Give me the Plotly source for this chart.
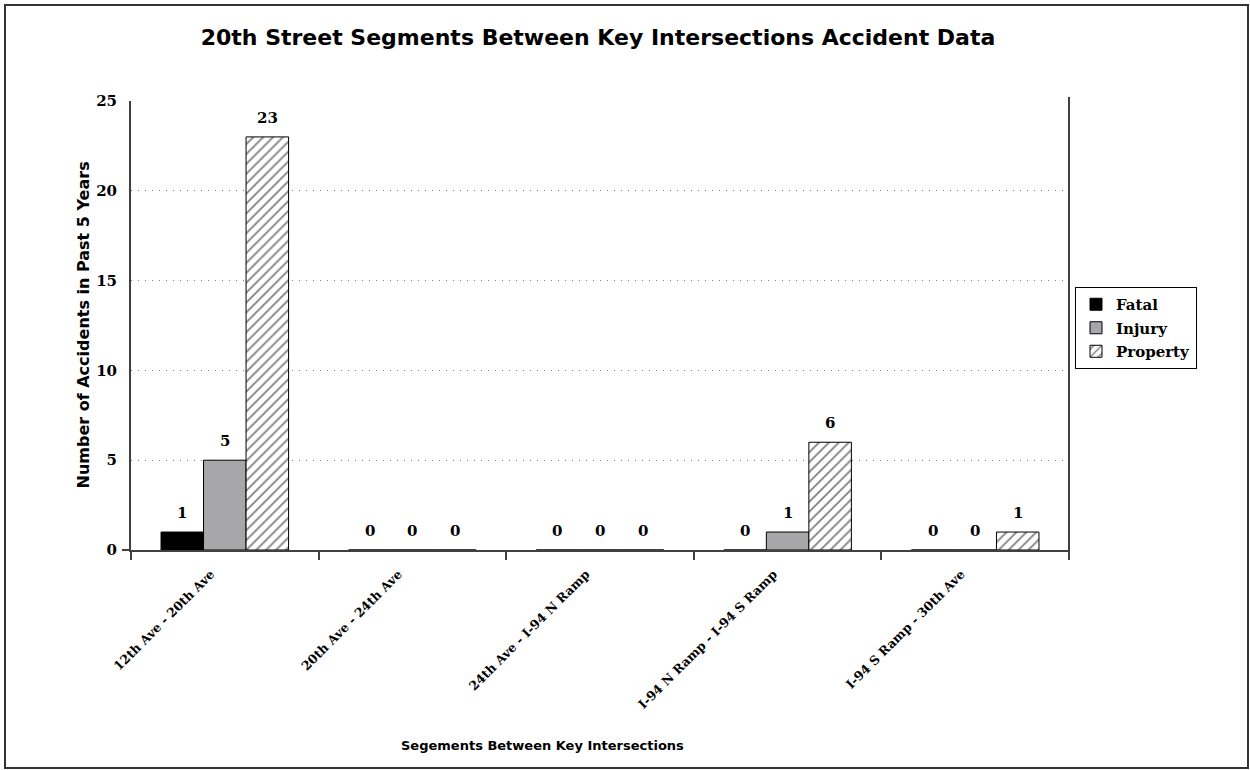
import plotly.graph_objects as go

categories = ["12th Ave - 20th Ave", "20th Ave - 24th Ave", "24th Ave - I-94 N Ramp",
              "I-94 N Ramp - I-94 S Ramp", "I-94 S Ramp - 30th Ave"]
fatal = [1, 0, 0, 0, 0]
injury = [5, 0, 0, 1, 0]
prop = [23, 0, 0, 6, 1]
y_ticks = [0, 5, 10, 15, 20, 25]

W, H = 1250, 770
L, R, T, B = 131, 1250 - 1069, 101, 770 - 550
PW, PH = W - L - R, H - T - B
BARGAP = 0.32

serif = "DejaVu Serif, Liberation Serif, serif"
sans = "DejaVu Sans, Verdana, sans-serif"

def px_x(x):
    return (x - L) / PW

def px_y(y):
    return (H - B - y) / PH

series = [("Fatal", fatal, dict(color="black")),
          ("Injury", injury, dict(color="#a7a7aa")),
          ("Property", prop, dict(color="white",
                                  pattern=dict(shape="/", fgcolor="black", bgcolor="white",
                                               size=7, solidity=0.25)))]

fig = go.Figure()
for i, (name, vals, mk) in enumerate(series):
    fig.add_trace(go.Bar(name=name, x=categories, y=vals, legendgroup=name,
                         marker=dict(line=dict(color="black", width=1), **mk)))

# value labels above bars
bar_w = PW / len(categories) * (1 - BARGAP) / len(series)
for i, (name, vals, mk) in enumerate(series):
    shift = (i - (len(series) - 1) / 2) * bar_w
    for c, v in zip(categories, vals):
        fig.add_annotation(x=c, y=v, xref="x", yref="y", text=str(v), showarrow=False,
                           xshift=shift, yshift=19, xanchor="center", yanchor="middle",
                           font=dict(family=serif, size=15, color="black", weight="bold"))

fig.update_layout(
    width=W, height=H,
    margin=dict(l=L, r=R, t=T, b=B, autoexpand=False),
    paper_bgcolor="white", plot_bgcolor="white",
    barmode="group", bargap=BARGAP, bargroupgap=0,
    title=dict(text="20th Street Segments Between Key Intersections Accident Data",
               x=598 / W, y=1 - 37 / H, xanchor="center", yanchor="middle",
               font=dict(family=sans, size=22, color="black", weight="bold")),
    legend=dict(x=px_x(1075), y=px_y(287), xanchor="left", yanchor="top",
                bordercolor="black", borderwidth=1, bgcolor="white",
                font=dict(family=serif, size=15, color="black", weight="bold"),
                tracegroupgap=1, itemwidth=30),
    showlegend=True,
)
fig.update_xaxes(showline=True, linecolor="#404040", linewidth=2,
                 ticks="outside", tickson="boundaries", ticklen=8, tickcolor="#404040",
                 tickwidth=2, tickangle=-45, ticklabelstandoff=10, ticklabelshift=-14,
                 tickfont=dict(family=serif, size=12.5, color="black", weight="bold"),
                 showgrid=False)
fig.update_yaxes(range=[0, 25], tickvals=y_ticks, showline=True, linecolor="#404040",
                 linewidth=2, showgrid=True, gridcolor="#808080", gridwidth=1,
                 griddash="1px,6px", zeroline=False, ticks="", ticklabelstandoff=9,
                 tickfont=dict(family=serif, size=15, color="black", weight="bold"))

fig.add_annotation(text="Number of Accidents in Past 5 Years", textangle=-90,
                   xref="paper", yref="paper", x=px_x(83), y=0.5,
                   xanchor="center", yanchor="middle", showarrow=False,
                   font=dict(family=sans, size=16, color="black", weight="bold"))
fig.add_annotation(text="Segements Between Key Intersections",
                   xref="paper", yref="paper", x=px_x(542), y=px_y(745),
                   xanchor="center", yanchor="middle", showarrow=False,
                   font=dict(family=sans, size=13, color="black", weight="bold"))

# right border line of plot area, x-axis extension, outer frame
fig.add_shape(type="line", xref="paper", yref="paper", x0=1, x1=1,
              y0=px_y(559), y1=px_y(97), line=dict(color="#404040", width=2))
fig.add_shape(type="line", xref="paper", yref="paper", x0=px_x(122), x1=0,
              y0=0, y1=0, line=dict(color="#404040", width=2))
fig.add_shape(type="rect", xref="paper", yref="paper", x0=px_x(5), x1=px_x(1248),
              y0=px_y(768), y1=px_y(5), line=dict(color="#333333", width=2))

fig.write_html("out.html", config={"displayModeBar": False},
               post_script="document.body.style.margin='0';document.body.style.overflow='hidden';")
